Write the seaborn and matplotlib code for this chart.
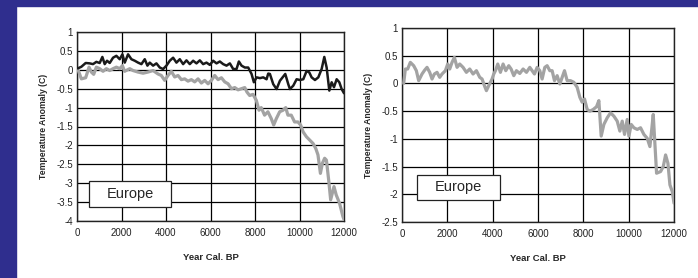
import matplotlib
matplotlib.use("Agg")
import matplotlib.pyplot as plt
import matplotlib.patches as mpatches
import seaborn as sns
import pandas as pd

# Left panel, black series (year BP, anomaly C)
black_years = [45, 195, 390, 570, 720, 870, 1020, 1140, 1245, 1350,
               1470, 1620, 1770, 1920, 2040, 2145, 2295, 2445, 2595, 2745,
               2895, 3045, 3165, 3270, 3420, 3570, 3720, 3870, 4020, 4170,
               4320, 4470, 4620, 4770, 4920, 5070, 5220, 5370, 5520, 5670,
               5820, 5970, 6120, 6270, 6420, 6570, 6720, 6870, 7020, 7170,
               7275, 7395, 7545, 7695, 7845, 7950, 8070, 8220, 8370, 8520,
               8595, 8670, 8820, 8970, 9120, 9240, 9360, 9495, 9570, 9720,
               9870, 10020, 10170, 10320, 10440, 10545, 10695, 10845, 10995, 11115,
               11220, 11340, 11445, 11550, 11670, 11790, 11895, 12000]
black_vals = [0.04, 0.08, 0.18, 0.17, 0.15, 0.21, 0.18, 0.34, 0.15, 0.24,
              0.18, 0.32, 0.37, 0.28, 0.41, 0.19, 0.41, 0.28, 0.24, 0.19,
              0.15, 0.28, 0.11, 0.19, 0.11, 0.17, 0.06, 0.02, 0.11, 0.24,
              0.32, 0.19, 0.28, 0.15, 0.25, 0.15, 0.24, 0.17, 0.25, 0.15,
              0.19, 0.13, 0.24, 0.17, 0.22, 0.15, 0.11, 0.17, 0.02, 0.02,
              0.22, 0.11, 0.06, 0.06, -0.11, -0.33, -0.20, -0.22, -0.20, -0.25,
              -0.10, -0.11, -0.38, -0.51, -0.29, -0.20, -0.11, -0.38, -0.51, -0.42,
              -0.25, -0.27, -0.25, -0.03, -0.07, -0.20, -0.27, -0.20, 0.02, 0.34,
              0.06, -0.55, -0.33, -0.46, -0.25, -0.33, -0.51, -0.62]

# Left panel, grey series
grey_l_years = [60, 195, 390, 540, 645, 750, 870, 1020, 1170, 1320,
                1470, 1620, 1770, 1920, 2040, 2140, 2370, 2520, 2740, 2970,
                3190, 3420, 3640, 3790, 3940, 4090, 4240, 4390, 4540, 4690,
                4840, 4990, 5140, 5290, 5440, 5590, 5740, 5890, 6040, 6190,
                6340, 6490, 6640, 6790, 6940, 7090, 7240, 7390, 7540, 7640,
                7760, 7910, 8060, 8180, 8280, 8430, 8580, 8730, 8840, 8960,
                9110, 9260, 9380, 9480, 9630, 9780, 9930, 10050, 10160, 10310,
                10460, 10610, 10730, 10830, 10940, 11030, 11130, 11210, 11310, 11400,
                11550, 11650, 11800, 11950, 12000]
grey_l_vals = [-0.02, -0.24, -0.21, 0.07, -0.06, -0.12, 0.07, 0.03, -0.04, 0.03,
               -0.02, 0.03, 0.07, 0.03, 0.11, -0.04, 0.03, -0.02, -0.06, -0.09,
               -0.06, -0.02, -0.11, -0.15, -0.28, -0.15, -0.04, -0.19, -0.15, -0.26,
               -0.24, -0.30, -0.26, -0.32, -0.24, -0.35, -0.28, -0.37, -0.28, -0.15,
               -0.26, -0.21, -0.32, -0.37, -0.50, -0.47, -0.53, -0.50, -0.47, -0.59,
               -0.68, -0.65, -0.81, -1.07, -1.00, -1.20, -1.11, -1.29, -1.46, -1.29,
               -1.11, -1.07, -1.00, -1.20, -1.20, -1.38, -1.38, -1.46, -1.64, -1.77,
               -1.86, -1.95, -2.08, -2.25, -2.74, -2.47, -2.34, -2.39, -2.91, -3.44,
               -3.09, -3.31, -3.53, -3.88, -3.96]

# Right panel, grey series
grey_r_years = [74, 147, 250, 368, 515, 633, 736, 883, 1001, 1104,
                1222, 1325, 1428, 1546, 1663, 1766, 1914, 2017, 2105, 2208,
                2311, 2429, 2547, 2694, 2841, 2988, 3135, 3283, 3430, 3533,
                3636, 3724, 3827, 3974, 4048, 4122, 4225, 4342, 4460, 4578,
                4710, 4813, 4931, 5049, 5196, 5343, 5491, 5638, 5741, 5844,
                5962, 6079, 6182, 6300, 6403, 6521, 6624, 6727, 6845, 6963,
                7066, 7169, 7286, 7434, 7581, 7728, 7846, 7949, 8052, 8170,
                8287, 8435, 8582, 8685, 8788, 8906, 9053, 9200, 9347, 9494,
                9612, 9715, 9818, 9936, 10010, 10113, 10231, 10378, 10525, 10672,
                10819, 10937, 11010, 11084, 11231, 11408, 11526, 11629, 11732, 11820,
                11923, 12000]
grey_r_vals = [0.00, 0.26, 0.26, 0.38, 0.32, 0.23, 0.05, 0.17, 0.24, 0.29,
               0.20, 0.08, 0.17, 0.20, 0.11, 0.17, 0.23, 0.35, 0.26, 0.38,
               0.47, 0.29, 0.35, 0.29, 0.20, 0.26, 0.17, 0.23, 0.11, 0.08,
               -0.04, -0.13, -0.04, 0.08, 0.17, 0.23, 0.35, 0.20, 0.35, 0.23,
               0.32, 0.26, 0.14, 0.23, 0.18, 0.26, 0.20, 0.29, 0.23, 0.17,
               0.29, 0.23, 0.08, 0.29, 0.32, 0.23, 0.23, 0.05, 0.14, -0.01,
               0.11, 0.23, 0.05, 0.05, 0.02, -0.07, -0.25, -0.34, -0.28, -0.47,
               -0.50, -0.47, -0.42, -0.31, -0.95, -0.74, -0.62, -0.53, -0.59, -0.68,
               -0.86, -0.68, -0.92, -0.65, -0.95, -0.74, -0.80, -0.83, -0.80, -0.92,
               -0.99, -1.14, -0.86, -0.56, -1.62, -1.59, -1.50, -1.29, -1.44, -1.83,
               -1.95, -2.16]

x_ticks = [0, 2000, 4000, 6000, 8000, 10000, 12000]
left_yticks = [1, 0.5, 0, -0.5, -1, -1.5, -2, -2.5, -3, -3.5, -4]
right_yticks = [1, 0.5, 0, -0.5, -1, -1.5, -2, -2.5]
region = "Europe"

sns.set_style("white")
plt.rcParams['font.family'] = ['Liberation Sans', 'DejaVu Sans']

fig = plt.figure(figsize=(6.98, 2.78), dpi=100)
fig.patch.set_facecolor('white')
blue = '#2f2e8e'
fig.patches.append(mpatches.Rectangle((0, 0), 16 / 698, 1, transform=fig.transFigure,
                                      color=blue, zorder=0))
fig.patches.append(mpatches.Rectangle((0, 1 - 6 / 278), 1, 6 / 278, transform=fig.transFigure,
                                      color=blue, zorder=0))

ax1 = fig.add_axes([77 / 698, 1 - 221 / 278, 267 / 698, 189 / 278])
ax2 = fig.add_axes([402 / 698, 1 - 222 / 278, 272 / 698, 194 / 278])

left_df = pd.DataFrame({'year': grey_l_years, 'anomaly': grey_l_vals})
black_df = pd.DataFrame({'year': black_years, 'anomaly': black_vals})
right_df = pd.DataFrame({'year': grey_r_years, 'anomaly': grey_r_vals})

sns.lineplot(data=left_df, x='year', y='anomaly', ax=ax1, sort=False, estimator=None,
             color='#a3a3a3', linewidth=2.3, zorder=3)
sns.lineplot(data=black_df, x='year', y='anomaly', ax=ax1, sort=False, estimator=None,
             color='#1a1a1a', linewidth=1.8, zorder=4)
sns.lineplot(data=right_df, x='year', y='anomaly', ax=ax2, sort=False, estimator=None,
             color='#a3a3a3', linewidth=2.3, zorder=3)


def style_axis(ax, yticks, box):
    ax.set_xlim(0, 12000)
    ax.set_ylim(min(yticks), max(yticks))
    ax.set_xticks(x_ticks)
    ax.set_yticks(yticks)
    ax.set_yticklabels([('%g' % t) for t in yticks])
    ax.grid(True, color='black', linewidth=0.9)
    ax.set_axisbelow(True)
    for s in ax.spines.values():
        s.set_color('#222222')
        s.set_linewidth(1.0)
    ax.tick_params(axis='both', labelsize=7, length=0, colors='#222222')
    ax.tick_params(axis='x', pad=5)
    ax.tick_params(axis='y', pad=3)
    ax.set_xlabel('Year Cal. BP', fontsize=6.8, fontweight='bold', labelpad=11)
    ax.set_ylabel('Temperature Anomaly (C)', fontsize=6.2, fontweight='bold', labelpad=6)
    x0, y0, x1, y1 = box
    ax.add_patch(mpatches.Rectangle((x0, y0), x1 - x0, y1 - y0, facecolor='white',
                                    edgecolor='#222222', linewidth=0.9, zorder=5))
    ax.text((x0 + x1) / 2, (y0 + y1) / 2, region, fontsize=10.5, ha='center',
            va='center', zorder=6)


style_axis(ax1, left_yticks, (540, -3.63, 4225, -2.94))
style_axis(ax2, right_yticks, (680, -2.1, 4330, -1.65))

plt.savefig('out.png', dpi=100, facecolor='white')
